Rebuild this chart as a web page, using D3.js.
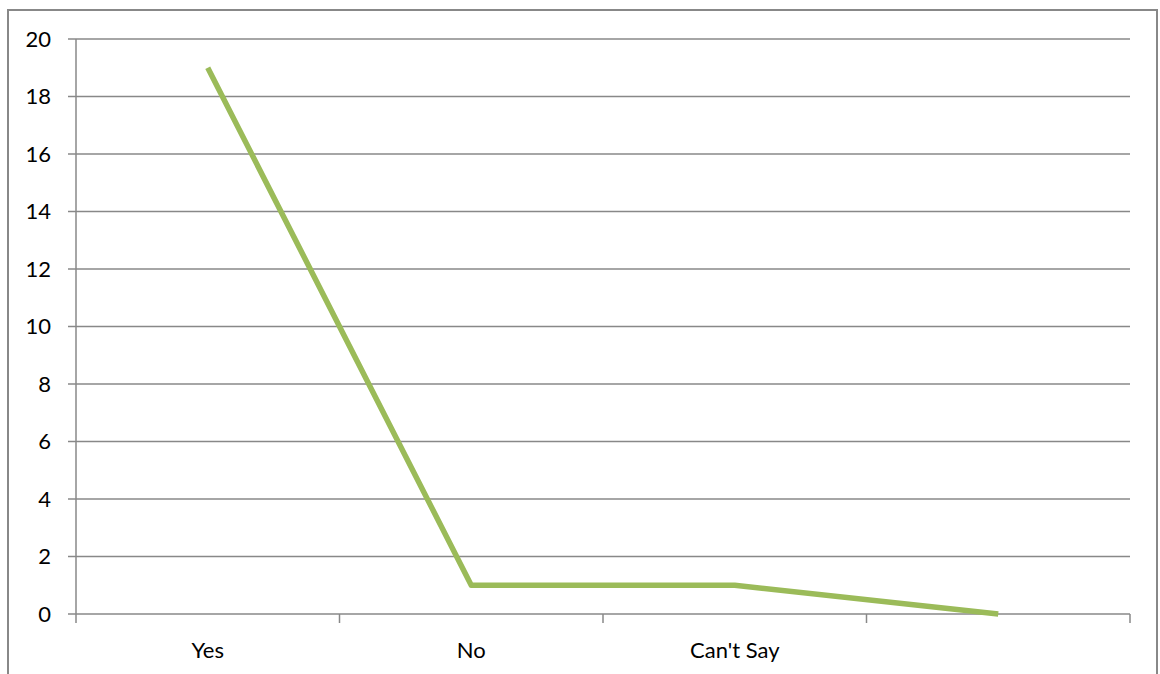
<!DOCTYPE html>
<html><head><meta charset="utf-8">
<script src="https://cdn.jsdelivr.net/npm/d3@7"></script>
<style>body{margin:0;background:#fff}svg{display:block}text{font-family:Lato,"Open Sans",sans-serif;fill:#000}</style>
</head><body>
<svg id="c" width="1160" height="674"></svg>
<script>
const categories = ["Yes", "No", "Can't Say", ""];
const values = [19, 1, 1, 0];
const yTicks = [0, 2, 4, 6, 8, 10, 12, 14, 16, 18, 20];

const svg = d3.select("#c");
const m = {l: 76, r: 1130, t: 39, b: 614};
svg.append("rect").attr("x", 8).attr("y", 10).attr("width", 1149).attr("height", 700)
  .attr("fill", "none").attr("stroke", "#888").attr("stroke-width", 2);

const x = d3.scaleBand().domain(categories.map((d,i)=>i)).range([m.l, m.r]);
const y = d3.scaleLinear().domain([0, 20]).range([m.b, m.t]);

svg.append("g").selectAll("line").data(yTicks).join("line")
  .attr("x1", m.l - 8).attr("x2", m.r).attr("y1", d=>y(d)).attr("y2", d=>y(d))
  .attr("stroke", "#888").attr("stroke-width", 1.5);
svg.append("line").attr("x1", m.l).attr("x2", m.l).attr("y1", m.t).attr("y2", m.b + 9)
  .attr("stroke", "#888").attr("stroke-width", 1.5);
const bounds = categories.map((d,i)=>x(i)).concat([m.r]);
svg.append("g").selectAll("line").data(bounds.slice(1)).join("line")
  .attr("x1", d=>d).attr("x2", d=>d).attr("y1", m.b).attr("y2", m.b + 9)
  .attr("stroke", "#888").attr("stroke-width", 1.5);
svg.append("g").selectAll("text").data(yTicks).join("text")
  .attr("x", 51).attr("y", d=>y(d)).attr("dy", "0.35em").attr("text-anchor", "end")
  .attr("font-size", 22).text(d=>d);
svg.append("g").selectAll("text").data(categories).join("text")
  .attr("x", (d,i)=>x(i) + x.bandwidth()/2).attr("y", 650).attr("dy", "0.35em")
  .attr("text-anchor", "middle").attr("font-size", 22).text(d=>d);
const line = d3.line().x((d,i)=>x(i) + x.bandwidth()/2).y(d=>y(d));
svg.append("path").datum(values).attr("d", line).attr("fill", "none")
  .attr("stroke", "#9BBB59").attr("stroke-width", 5.5).attr("stroke-linejoin", "round");
</script>
</body></html>
